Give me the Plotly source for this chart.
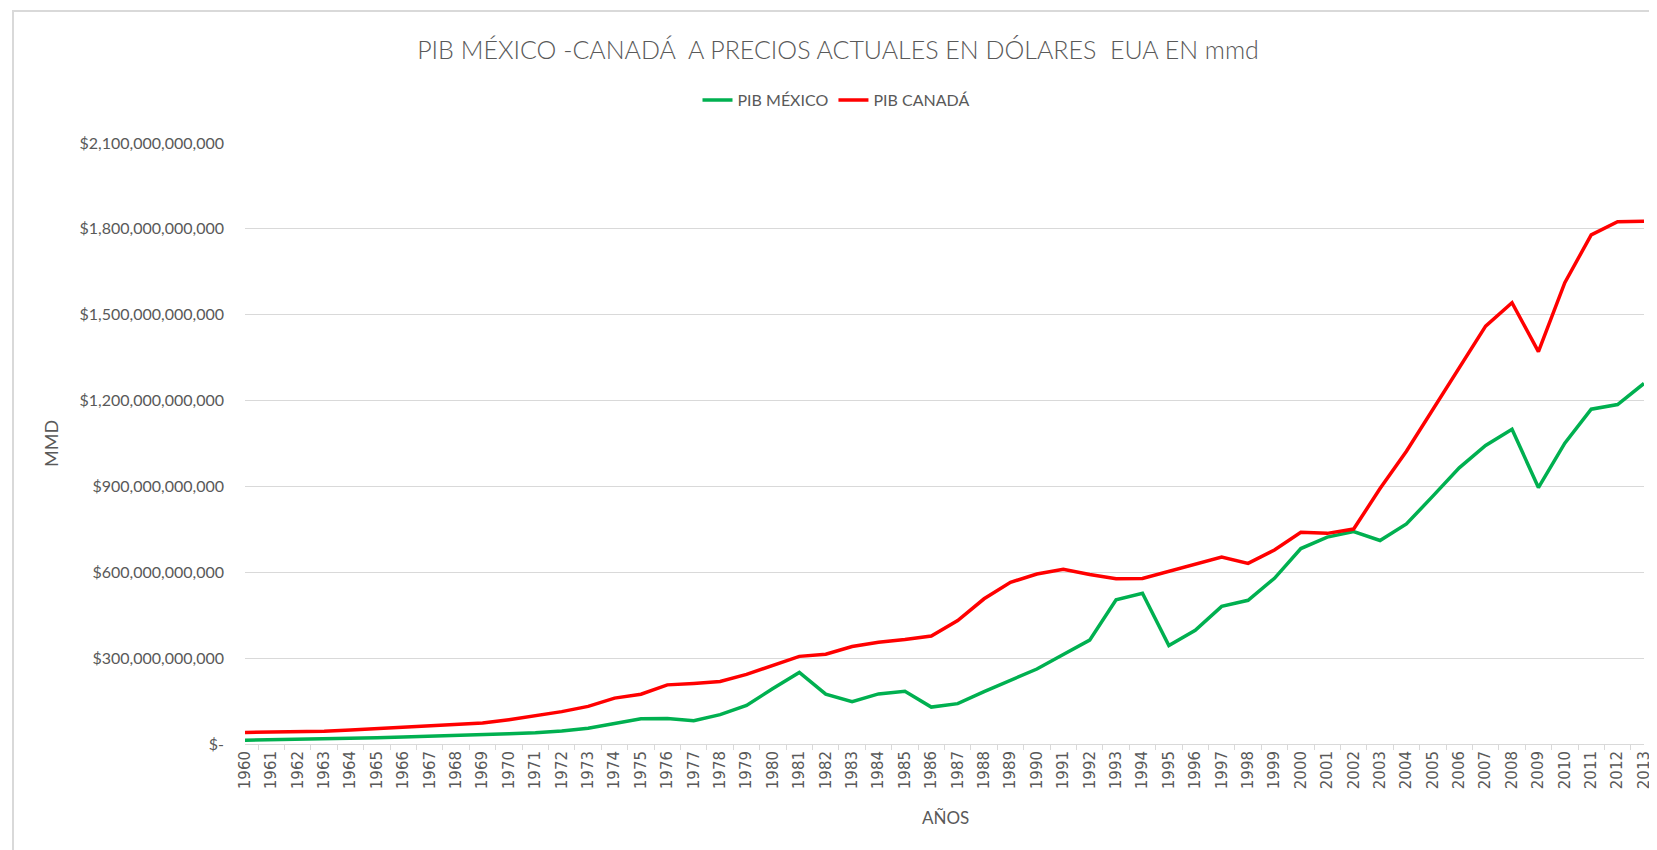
import plotly.graph_objects as go

# Años (categorías del eje X)
years = [str(y) for y in range(1960, 2014)]

# PIB en miles de millones de dólares EUA
pib_mexico_bn = [
    13.0, 14.2, 15.2, 17.0, 20.1, 21.8, 24.4, 26.6, 29.4, 32.5,
    35.5, 39.2, 45.2, 55.3, 72.2, 88.0, 89.0, 81.7, 102.5, 134.5,
    194.0, 250.0, 174.0, 148.0, 175.0, 184.0, 129.0, 141.0, 183.0, 222.0,
    262.0, 313.0, 363.0, 504.0, 527.0, 344.0, 397.0, 481.0, 502.0, 579.0,
    683.0, 723.0, 742.0, 711.0, 769.0, 866.0, 965.0, 1043.0, 1100.0, 896.0,
    1051.0, 1170.0, 1186.0, 1260.0,
]
pib_canada_bn = [
    40.5, 40.9, 42.2, 44.8, 48.5, 52.9, 57.7, 62.0, 67.5, 73.0,
    85.0, 99.3, 113.1, 131.3, 160.4, 173.8, 206.6, 211.6, 218.6, 243.1,
    273.9, 306.2, 313.5, 340.5, 355.4, 364.8, 377.4, 431.3, 507.4, 565.1,
    593.9, 610.3, 592.4, 577.2, 578.1, 604.0, 628.5, 652.8, 631.0, 678.0,
    740.0, 736.0, 751.0, 892.4, 1023.2, 1169.4, 1315.4, 1460.0, 1542.0, 1371.0,
    1612.0, 1779.0, 1825.0, 1827.0,
]

pib_mexico = [v * 1e9 for v in pib_mexico_bn]
pib_canada = [v * 1e9 for v in pib_canada_bn]

# marcas del eje Y (formato contable de Excel)
y_tickvals = [0, 300e9, 600e9, 900e9, 1200e9, 1500e9, 1800e9, 2100e9]
y_ticktext = ["$-", "$300,000,000,000", "$600,000,000,000", "$900,000,000,000",
              "$1,200,000,000,000", "$1,500,000,000,000", "$1,800,000,000,000",
              "$2,100,000,000,000"]

W, H = 1657, 850
L, R, T, B = 237, 21, 135, 114
pw, ph = W - L - R, H - T - B

gray = "#595959"
font = "Lato"

fig = go.Figure()
fig.add_trace(go.Scatter(x=years, y=pib_mexico, mode="lines", name="PIB MÉXICO",
                         line=dict(color="#00b050", width=3.5)))
fig.add_trace(go.Scatter(x=years, y=pib_canada, mode="lines", name="PIB CANADÁ",
                         line=dict(color="#ff0000", width=3.5)))

fig.update_layout(
    width=W, height=H,
    margin=dict(l=L, r=R, t=T, b=B),
    paper_bgcolor="white", plot_bgcolor="white",
    font=dict(family=font, color=gray),
    title=dict(text="PIB MÉXICO -CANADÁ  A PRECIOS ACTUALES EN DÓLARES  EUA EN mmd",
               x=830 / W, xanchor="center", y=1 - 42 / H, yanchor="middle",
               font=dict(family=font, size=25, color=gray, weight=300)),
    legend=dict(orientation="h", x=(828 - L) / pw, xanchor="center",
                y=1 + (T - 92) / ph, yanchor="middle",
                font=dict(family=font, size=16, color=gray), itemwidth=30),
    showlegend=True,
    hovermode=False,
)

fig.update_xaxes(type="category", showgrid=False, showline=True, linecolor="#d9d9d9",
                 linewidth=1, ticks="outside", tickson="boundaries", ticklen=5,
                 tickcolor="#d9d9d9", tickangle=-90,
                 tickfont=dict(family="DejaVu Sans", size=15, color=gray))
fig.update_yaxes(range=[0, 2100e9], tickvals=y_tickvals, ticktext=y_ticktext,
                 showgrid=True, gridcolor="#d9d9d9", gridwidth=1, zeroline=False,
                 showline=False, ticklabelstandoff=20,
                 tickfont=dict(family=font, size=16, color=gray))

# títulos de ejes
fig.add_annotation(text="MMD", xref="paper", yref="paper", x=(43 - L) / pw, xanchor="center",
                   y=(T + ph - 436) / ph, yanchor="middle",
                   textangle=-90, showarrow=False, font=dict(family=font, size=18, color=gray))
fig.add_annotation(text="AÑOS", xref="paper", yref="paper", x=(937 - L) / pw, xanchor="center",
                   y=-(810 - (T + ph)) / ph, yanchor="middle", showarrow=False,
                   font=dict(family=font, size=17, color=gray))

# borde del área del gráfico
fig.add_shape(type="rect", xref="paper", yref="paper",
              x0=(5 - L) / pw, x1=(1662 - L) / pw, y0=(T + ph - 848) / ph, y1=1 + (T - 3) / ph,
              line=dict(color="#d9d9d9", width=2), layer="below")

fig.write_html("out.html")
